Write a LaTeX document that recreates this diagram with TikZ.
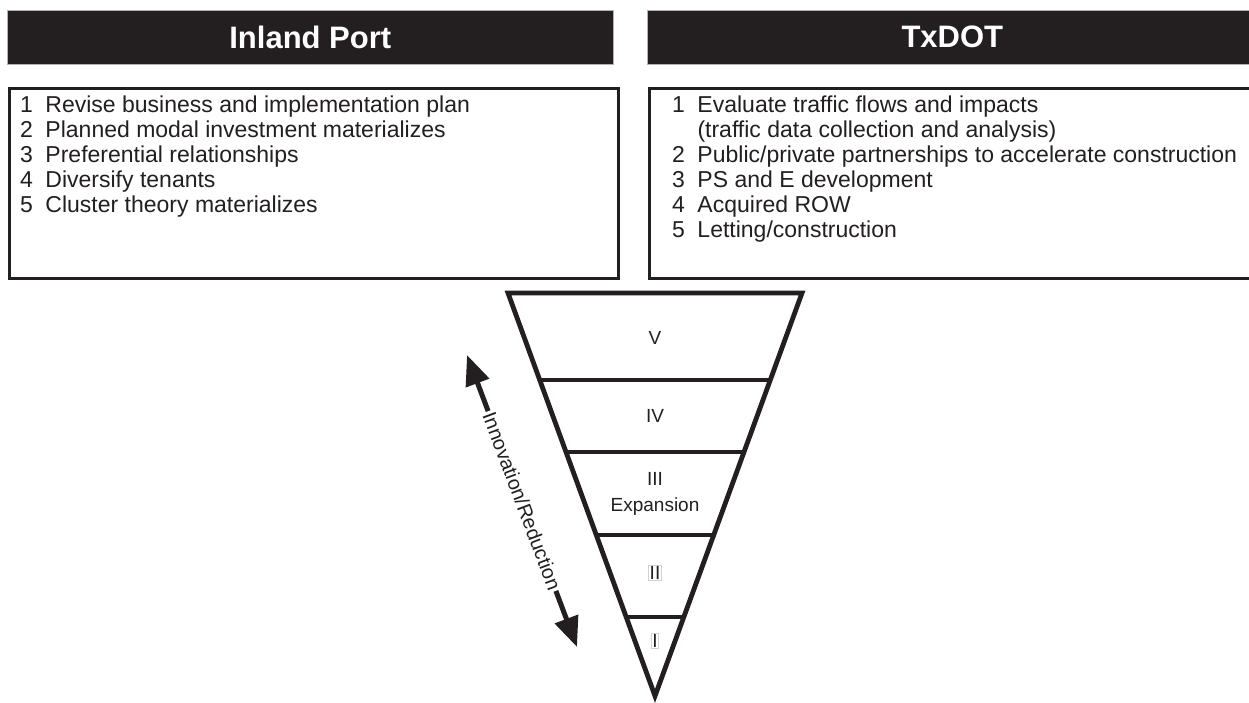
\documentclass[tikz,border=0pt]{standalone}
\usepackage{fontspec}
\setmainfont{Liberation Sans}
\usetikzlibrary{arrows.meta,calc}
\definecolor{ink}{RGB}{35,31,32}
\begin{document}
\begin{tikzpicture}[x=1pt,y=-1pt,
  hdr/.style={fill=ink, draw=gray!60, line width=0.6pt, text=white, anchor=north west,
    minimum height=54pt, inner sep=0pt, font=\fontsize{31}{36}\selectfont\bfseries},
  panel/.style={draw=ink, line width=2.5pt, anchor=north west, minimum height=190pt, inner sep=0pt},
  item/.style={anchor=base west, inner sep=0pt, font=\fontsize{23}{26}\selectfont, text=ink},
  funnel/.style={draw=ink, line width=4.8pt, line join=miter},
  lvl/.style={anchor=base, inner sep=1pt, font=\fontsize{19}{22}\selectfont, text=ink},
  lvlbox/.style={lvl, draw=gray!35, line width=0.5pt},
  biarrow/.style={draw=ink, line width=5pt, {Triangle[length=30pt,width=24pt]}-{Triangle[length=30pt,width=24pt]}}
]
\useasboundingbox (0,0) rectangle (1249,702);
\fill[white] (0,0) rectangle (1249,702);

% headers
\node[hdr, minimum width=606pt] (hL) at (7,10) {Inland Port};
\node[hdr, minimum width=610pt, text width=602pt, align=center] (hR) at (647,10) {TxDOT};

% panels
\node[panel, minimum width=609pt] (bL) at (8,87) {};
\node[panel, minimum width=612pt] (bR) at (648,87) {};

\newcommand{\nb}[1]{\makebox[1.1em][l]{#1}}
% left list
\node[item] (l1) at (20,112) {\nb{1}Revise business and implementation plan};
\node[item] (l2) at (20,137) {\nb{2}Planned modal investment materializes};
\node[item] (l3) at (20,162) {\nb{3}Preferential relationships};
\node[item] (l4) at (20,187) {\nb{4}Diversify tenants};
\node[item] (l5) at (20,212) {\nb{5}Cluster theory materializes};

% right list
\node[item] (r1) at (672,112) {\nb{1}Evaluate traffic flows and impacts};
\node[item] (r1b) at (672,137) {\nb{}(traffic data collection and analysis)};
\node[item] (r2) at (672,162) {\nb{2}Public/private partnerships to accelerate construction};
\node[item] (r3) at (672,187) {\nb{3}PS and E development};
\node[item] (r4) at (672,212) {\nb{4}Acquired ROW};
\node[item] (r5) at (672,237) {\nb{5}Letting/construction};

% funnel
\coordinate (T1) at (508,293);
\coordinate (T2) at (802,293);
\coordinate (Tp) at (655,696);
\draw[funnel] (T1) -- (T2) -- (Tp) -- cycle;
\foreach \t in {0.2159,0.3945,0.6005,0.804}{
  \draw[funnel] ($(T1)!\t!(Tp)$) -- ($(T2)!\t!(Tp)$);
}

\node[lvl] (v5) at (655,344) {V};
\node[lvl] (v4) at (655,422) {IV};
\node[lvl] (v3) at (655,485) {III};
\node[lvl] (v3b) at (655,511) {Expansion};
\node[lvlbox] (v2) at (655,579) {II};
\node[lvlbox] (v1) at (655,647) {I};

% arrow
\coordinate (aT) at (467,355);
\coordinate (aB) at (577,647);
\draw[biarrow] (aT) -- node[midway, sloped, fill=white, inner sep=2pt,
  font=\fontsize{20}{24}\selectfont, text=ink] (lab) {Innovation/Reduction} (aB);
\end{tikzpicture}
\end{document}
